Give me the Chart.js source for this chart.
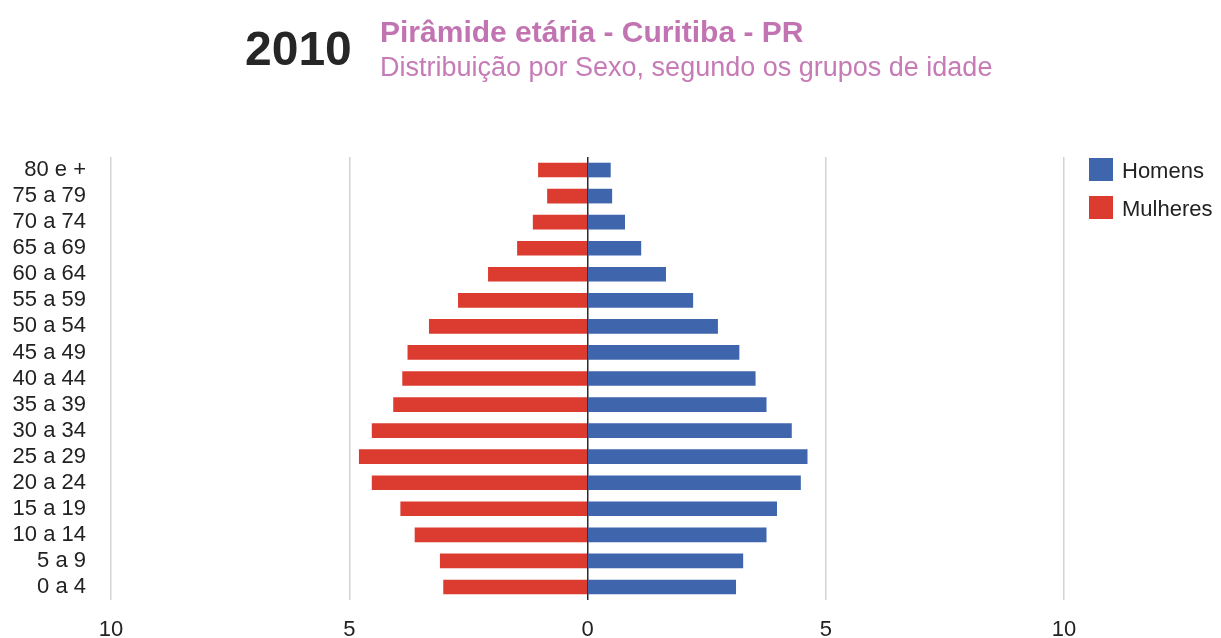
<!DOCTYPE html>
<html lang="pt-BR">
<head>
<meta charset="utf-8">
<title>Pirâmide etária - Curitiba - PR (2010)</title>
<script src="https://cdn.jsdelivr.net/npm/chart.js@4/dist/chart.umd.min.js"></script>
<style>
  html, body { margin: 0; padding: 0; background: #fff; }
  body { width: 1221px; height: 638px; position: relative; overflow: hidden;
         font-family: "Liberation Sans", Arial, Helvetica, sans-serif; }
  #wrap { position: absolute; left: 0; top: 0; width: 1221px; height: 638px; }
  .year { position: absolute; left: 245px; top: 25px; font-size: 48px; line-height: 48px;
          font-weight: bold; color: #262626; }
  .title { position: absolute; left: 380px; top: 17px; font-size: 30px; line-height: 30px;
           font-weight: bold; color: #c274b2; }
  .subtitle { position: absolute; left: 380px; top: 54px; font-size: 27px; line-height: 27px;
              color: #c67bb7; }
  .legend { position: absolute; left: 1089px; top: 157px; font-size: 22px; color: #222; }
  .legend .item { display: flex; align-items: center; height: 24px; margin-bottom: 14px; }
  .legend .box { width: 24px; height: 23px; margin-right: 9px; }
  .legend .txt { position: relative; top: 2px; }
</style>
</head>
<body>
<div id="wrap"><canvas id="chart" width="1221" height="638"></canvas></div>
<div class="year">2010</div>
<div class="title">Pirâmide etária - Curitiba - PR</div>
<div class="subtitle">Distribuição por Sexo, segundo os grupos de idade</div>
<div class="legend" id="legend"></div>
<script>
// Age groups, oldest at the top
const ageGroups = ["80 e +", "75 a 79", "70 a 74", "65 a 69", "60 a 64", "55 a 59",
  "50 a 54", "45 a 49", "40 a 44", "35 a 39", "30 a 34", "25 a 29", "20 a 24",
  "15 a 19", "10 a 14", "5 a 9", "0 a 4"];

// Share of the population (%) in each age group
const homens   = [0.48, 0.51, 0.78, 1.12, 1.64, 2.21, 2.73, 3.18, 3.52, 3.75, 4.28, 4.61, 4.47, 3.97, 3.75, 3.26, 3.11];
const mulheres = [1.03, 0.84, 1.14, 1.47, 2.08, 2.71, 3.32, 3.77, 3.88, 4.07, 4.52, 4.79, 4.52, 3.92, 3.62, 3.09, 3.02];

const xTicks = [-10, -5, 0, 5, 10];

const seriesNames = ["Homens", "Mulheres"];
const seriesColors = ["#3f65ad", "#dc3b2f"];

const FONT = '"Liberation Sans", Arial, Helvetica, sans-serif';

new Chart(document.getElementById("chart"), {
  type: "bar",
  data: {
    labels: ageGroups,
    datasets: [
      { label: seriesNames[0], data: homens, backgroundColor: seriesColors[0] },
      // women drawn to the left of the zero line
      { label: seriesNames[1], data: mulheres.map(v => -v), backgroundColor: seriesColors[1] }
    ]
  },
  options: {
    indexAxis: "y",
    responsive: false,
    animation: false,
    layout: { padding: { left: 0, right: 157, top: 157, bottom: 0 } },
    datasets: { bar: { barThickness: 14 } },
    plugins: {
      legend: { display: false },
      tooltip: { enabled: false },
      title: { display: false }
    },
    scales: {
      x: {
        stacked: true,
        min: xTicks[0],
        max: xTicks[xTicks.length - 1],
        z: 1,
        afterBuildTicks: axis => { axis.ticks = xTicks.map(v => ({ value: v })); },
        afterFit: axis => { axis.height = 38; },
        border: { display: false },
        grid: {
          drawTicks: false,
          color: ctx => (ctx.tick && ctx.tick.value === 0) ? "#2b2b2b" : "#d3d3d3",
          lineWidth: 1.5
        },
        ticks: {
          padding: 17,
          color: "#222",
          font: { family: FONT, size: 22 },
          callback: v => String(Math.abs(v))
        }
      },
      y: {
        stacked: true,
        afterFit: axis => { axis.width = 111; },
        border: { display: false },
        grid: { display: false, drawTicks: false },
        ticks: {
          padding: 25,
          color: "#222",
          font: { family: FONT, size: 22, lineHeight: 1.0 },
          autoSkip: false
        }
      }
    }
  }
});

// Legend built from the series names and colours
const legend = document.getElementById("legend");
seriesNames.forEach((name, i) => {
  const item = document.createElement("div");
  item.className = "item";
  const box = document.createElement("span");
  box.className = "box";
  box.style.background = seriesColors[i];
  const txt = document.createElement("span");
  txt.className = "txt";
  txt.textContent = name;
  item.appendChild(box);
  item.appendChild(txt);
  legend.appendChild(item);
});
</script>
</body>
</html>
